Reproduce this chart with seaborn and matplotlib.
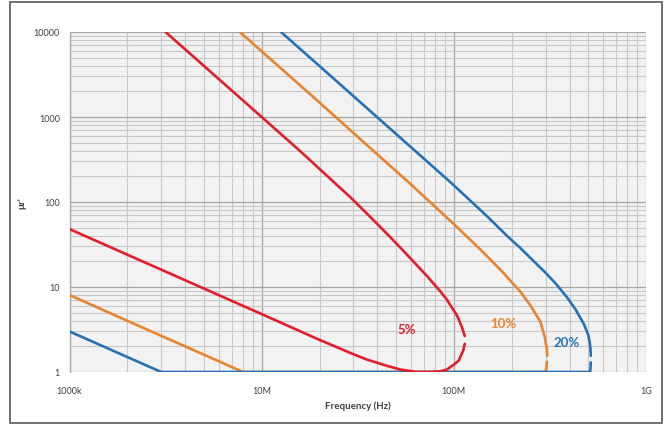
import matplotlib
matplotlib.use("Agg")
import matplotlib.pyplot as plt
import seaborn as sns
import numpy as np
from matplotlib.patches import Rectangle
from matplotlib.ticker import FixedLocator, FixedFormatter, LogLocator, NullFormatter

# ---- data (frequency in Hz, mu_r') ----
red_up_f = [3.16e6, 5e6, 1e7, 1.59e7, 2e7, 2.89e7, 3.53e7, 4.5e7, 5.4e7, 7.24e7, 8.5e7, 9.2e7, 1.04e8, 1.1e8, 1.12e8, 1.14e8]
red_up_y = [10000, 4000, 1000, 395, 245, 114, 73, 42, 27.4, 13.5, 8.9, 7.1, 4.6, 3.4, 3.0, 2.65]
red_lo_f = [1.14e8, 1.12e8, 1.06e8, 1.0e8, 9.2e7, 8.5e7, 7.5e7, 6.4e7, 5.26e7, 4.5e7, 3.53e7, 3.0e7, 2.5e7, 1.94e7, 1e7, 5e6, 2e6, 1e6]
red_lo_y = [2.15, 1.8, 1.36, 1.22, 1.07, 1.02, 1.0, 1.0, 1.07, 1.18, 1.4, 1.62, 1.93, 2.46, 4.8, 9.6, 24, 48]

orange_up_f = [7.7e6, 1e7, 2e7, 3.67e7, 6e7, 1e8, 1.37e8, 1.75e8, 2.22e8, 2.5e8, 2.82e8, 2.97e8, 3.05e8, 3.06e8]
orange_up_y = [10000, 5930, 1480, 432, 160, 55, 27.8, 15.9, 8.8, 6.1, 3.9, 2.6, 1.86, 1.55]
orange_lo_f = [3.05e8, 3.03e8, 3.0e8, 8e6, 4e6, 2e6, 1e6]
orange_lo_y = [1.32, 1.1, 1.0, 1.0, 2.0, 4.0, 8.05]

blue_up_f = [1.26e7, 2e7, 4e7, 9.6e7, 1.5e8, 1.89e8, 2.22e8, 3e8, 3.4e8, 3.89e8, 4.3e8, 4.74e8, 5e8, 5.1e8, 5.14e8, 5.16e8]
blue_up_y = [10000, 3975, 990, 171, 67, 40, 28.7, 14.7, 10.9, 7.5, 5.44, 3.7, 2.75, 2.2, 1.9, 1.55]
blue_lo_f = [5.16e8, 5.14e8, 5.12e8, 3e6, 1.5e6, 1e6]
blue_lo_y = [1.3, 1.1, 1.0, 1.0, 2.0, 3.0]

series_labels = ["5%", "10%", "20%"]
label_pos_f = [5.7e7, 1.82e8, 3.88e8]
label_pos_y = [3.2, 3.77, 2.28]

x_ticks = [1e6, 1e7, 1e8, 1e9]
x_ticklabels = ["1000k", "10M", "100M", "1G"]
y_ticks = [1, 10, 100, 1000, 10000]
y_ticklabels = ["1", "10", "100", "1000", "10000"]

RED = "#E31E2B"
ORANGE = "#E8832E"
BLUE = "#2672B8"

sns.set_style("white")
plt.rcParams["font.family"] = ["Lato", "DejaVu Sans"]

fig = plt.figure(figsize=(6.68, 4.27), dpi=100)
ax = fig.add_axes([69.5 / 668, 1 - 373 / 427, (646 - 69.5) / 668, (373 - 33) / 427])
ax.set_facecolor("#F2F2F2")

ax.set_xscale("log")
ax.set_yscale("log")

lw = 1.9
for f, y, c in [
    (orange_up_f, orange_up_y, ORANGE), (orange_lo_f, orange_lo_y, ORANGE),
    (blue_up_f, blue_up_y, BLUE), (blue_lo_f, blue_lo_y, BLUE),
    (red_up_f, red_up_y, RED), (red_lo_f, red_lo_y, RED),
]:
    sns.lineplot(x=f, y=y, sort=False, estimator=None, color=c, lw=lw, ax=ax, zorder=3)

ax.set_xlim(1e6, 1e9)
ax.set_ylim(1, 10000)

ax.xaxis.set_major_locator(FixedLocator(x_ticks))
ax.xaxis.set_major_formatter(FixedFormatter(x_ticklabels))
ax.yaxis.set_major_locator(FixedLocator(y_ticks))
ax.yaxis.set_major_formatter(FixedFormatter(y_ticklabels))
ax.xaxis.set_minor_locator(LogLocator(base=10, subs=np.arange(2, 10), numticks=20))
ax.yaxis.set_minor_locator(LogLocator(base=10, subs=np.arange(2, 10), numticks=20))
ax.xaxis.set_minor_formatter(NullFormatter())
ax.yaxis.set_minor_formatter(NullFormatter())

ax.grid(True, which="major", color="#A6A6A6", lw=0.9, zorder=0)
ax.grid(True, which="minor", color="#C8C8C8", lw=0.8, zorder=0)
ax.set_axisbelow(True)

for s in ["top", "right", "bottom"]:
    ax.spines[s].set_visible(False)
ax.spines["left"].set_color("#A6A6A6")
ax.spines["left"].set_linewidth(0.9)

ax.tick_params(axis="both", which="major", length=4, width=0.8, color="#A6A6A6",
               labelsize=6.5, labelcolor="#404040", direction="out")
ax.tick_params(axis="x", which="major", pad=6)
ax.tick_params(axis="y", which="major", pad=3)
ax.tick_params(axis="both", which="minor", length=0)

ax.set_xlabel("Frequency (Hz)", fontsize=7, fontweight="bold", color="#404040")
ax.xaxis.set_label_coords(0.5, -0.085)
ax.set_ylabel("μr'", fontsize=7, fontweight="bold", color="#404040")
ax.yaxis.set_label_coords(-0.075, 0.5)

for t, fx, fy, c in zip(series_labels, label_pos_f, label_pos_y, [RED, ORANGE, BLUE]):
    ax.text(fx, fy, t, color=c, fontsize=9.5, fontweight="bold", ha="center", va="center", zorder=4)

fig.patches.append(Rectangle((10 / 668, 3 / 427), (662 - 10) / 668, (424 - 3) / 427,
                             transform=fig.transFigure, fill=False, edgecolor="#595959", lw=1.2))

fig.savefig("out.png", dpi=100)
